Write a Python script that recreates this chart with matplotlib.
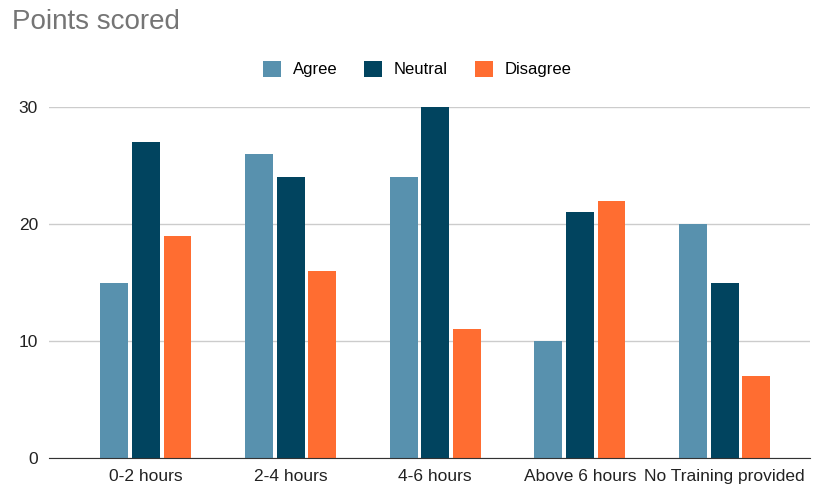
import numpy as np
import matplotlib.pyplot as plt

plt.rcParams["font.family"] = ["Liberation Sans", "DejaVu Sans"]

# Survey responses per training-hours group
categories = ["0-2 hours", "2-4 hours", "4-6 hours", "Above 6 hours", "No Training provided"]
agree = [15, 26, 24, 10, 20]
neutral = [27, 24, 30, 21, 15]
disagree = [19, 16, 11, 22, 7]

series = [("Agree", agree, "#5891ae"), ("Neutral", neutral, "#01445f"), ("Disagree", disagree, "#ff6d31")]

fig = plt.figure(figsize=(8.14, 4.86), dpi=100)
ax = fig.add_axes([49 / 814, 1 - 458 / 486, (810 - 49) / 814, (458 - 107) / 486])

x = np.arange(len(categories))
width = 0.193
offset = 0.218
for i, (name, vals, color) in enumerate(series):
    ax.bar(x + (i - 1) * offset, vals, width, color=color, label=name, zorder=3)

ax.set_xlim(-0.67, 4.59)
ax.set_ylim(0, 30)
ax.set_yticks([0, 10, 20, 30])
ax.set_xticks(x)
ax.set_xticklabels(categories)
ax.grid(axis="y", color="#cccccc", linewidth=1, zorder=0)
for s in ["top", "right", "left"]:
    ax.spines[s].set_visible(False)
ax.spines["bottom"].set_color("#333333")
ax.spines["bottom"].set_zorder(4)
ax.tick_params(axis="both", length=0, labelsize=12.5, colors="#222222")
ax.tick_params(axis="y", pad=8)
ax.tick_params(axis="x", pad=8)

fig.text(12 / 814, 1 - 22 / 486, "Points scored", fontsize=20, color="#757575", va="center", ha="left")
fig.legend(loc="center", bbox_to_anchor=(417 / 814, 1 - 69 / 486), ncol=3, frameon=False,
           fontsize=12, handlelength=1.1, handleheight=1.1, columnspacing=1.6, handletextpad=0.7)

fig.savefig("out.png", dpi=100)
